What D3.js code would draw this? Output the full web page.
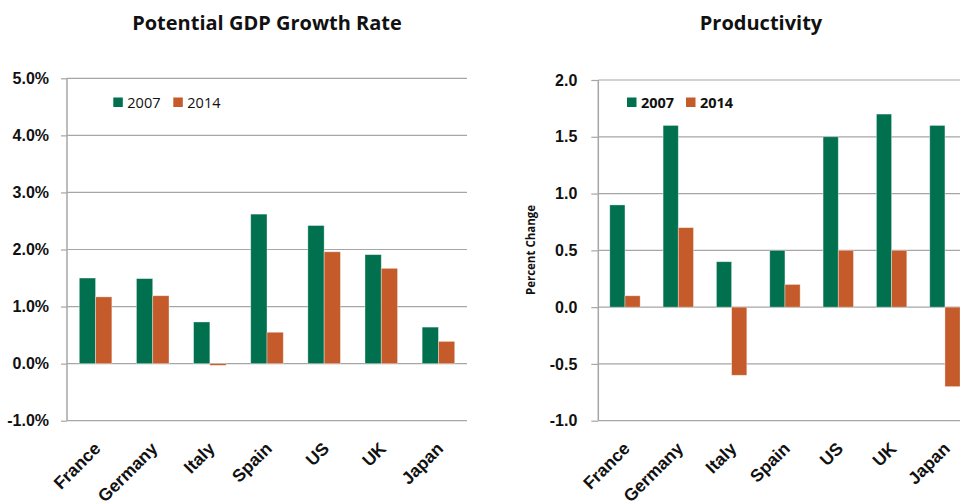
<!DOCTYPE html>
<html>
<head>
<meta charset="utf-8">
<script src="https://cdn.jsdelivr.net/npm/d3@7"></script>
<style>
  body { margin: 0; background: #fff; }
  svg { display: block; font-family: "Open Sans", "Liberation Sans", sans-serif; }
</style>
</head>
<body>
<div id="chart"></div>
<script>
// data
var countries = ["France", "Germany", "Italy", "Spain", "US", "UK", "Japan"];
var years = ["2007", "2014"];
var gdp2007 = [1.50, 1.49, 0.73, 2.62, 2.42, 1.91, 0.64];
var gdp2014 = [1.17, 1.19, -0.03, 0.55, 1.96, 1.67, 0.39];
var prod2007 = [0.9, 1.6, 0.4, 0.5, 1.5, 1.7, 1.6];
var prod2014 = [0.1, 0.7, -0.6, 0.2, 0.5, 0.5, -0.7];
var gdpTicks = [-1, 0, 1, 2, 3, 4, 5];
var prodTicks = [-1, -0.5, 0, 0.5, 1, 1.5, 2];

var colors = {"2007": "#00704e", "2014": "#c55a2b"};
var gridColor = "#a6a6a6";

// plain hyphen for negatives, like the original
var fmt1 = function(d) { return d3.format(".1f")(d).replace("\u2212", "-"); };

var svg = d3.select("#chart")
    .append("svg")
        .attr("width", 960)
        .attr("height", 501);

function drawPanel(p) {
    var x = d3.scaleBand()
        .domain(countries)
        .range([p.left, p.right]);

    var groupW = x.bandwidth() * 0.57;
    var xs = d3.scaleBand()
        .domain(years)
        .range([-groupW / 2, groupW / 2]);

    var y = d3.scaleLinear()
        .domain(p.domain)
        .range([p.bottom, p.top]);

    var g = svg.append("g");

    // gridlines
    g.append("g")
        .selectAll("line")
        .data(p.ticks)
        .enter()
        .append("line")
        .attr("x1", p.left)
        .attr("x2", p.right)
        .attr("y1", function(d) { return y(d); })
        .attr("y2", function(d) { return y(d); })
        .attr("stroke", gridColor)
        .attr("stroke-width", 1.2);

    // y axis labels + ticks
    var yAxis = g.append("g")
        .attr("transform", "translate(" + p.left + ",0)")
        .call(d3.axisLeft(y)
            .tickValues(p.ticks)
            .tickSize(p.tickSize)
            .tickPadding(p.tickPad)
            .tickFormat(p.format));
    yAxis.select(".domain").remove();
    yAxis.selectAll("line").attr("stroke", gridColor).attr("stroke-width", 1.2);
    yAxis.selectAll("text")
        .attr("fill", "#111")
        .style("font-size", "16px")
        .style("font-weight", "bold");

    // bars
    var rows = countries.map(function(c, i) {
        return [{c: c, s: "2007", v: p.s1[i]}, {c: c, s: "2014", v: p.s2[i]}];
    });
    g.append("g")
        .selectAll("g")
        .data(rows)
        .enter()
        .append("g")
        .attr("transform", function(d) {
            return "translate(" + (x(d[0].c) + x.bandwidth() / 2) + ",0)";
        })
        .selectAll("rect")
        .data(function(d) { return d; })
        .enter()
        .append("rect")
        .attr("x", function(d) { return xs(d.s); })
        .attr("width", xs.bandwidth())
        .attr("y", function(d) { return y(Math.max(0, d.v)); })
        .attr("height", function(d) { return Math.abs(y(d.v) - y(0)); })
        .attr("fill", function(d) { return colors[d.s]; })
        .attr("stroke", "rgba(255,255,255,0.45)")
        .attr("stroke-width", 0.8);

    // vertical axis line
    g.append("line")
        .attr("x1", p.left).attr("x2", p.left)
        .attr("y1", p.top).attr("y2", p.bottom)
        .attr("stroke", gridColor)
        .attr("stroke-width", 1.5);

    // category labels
    var xAxis = g.append("g")
        .attr("transform", "translate(0," + p.bottom + ")")
        .call(d3.axisBottom(x).tickSize(0));
    xAxis.select(".domain").remove();
    xAxis.selectAll("text")
        .attr("y", 0)
        .attr("dy", 0)
        .attr("transform", "translate(6,29) rotate(-45)")
        .style("text-anchor", "end")
        .attr("fill", "#111")
        .style("font-size", "17.5px")
        .style("font-weight", "bold");

    // title
    svg.append("text")
        .attr("x", p.titleX)
        .attr("y", 30)
        .attr("text-anchor", "middle")
        .style("font-size", "20px")
        .style("font-weight", "bold")
        .attr("fill", "#111")
        .text(p.title);

    // legend
    var leg = svg.append("g");
    years.forEach(function(yr, i) {
        leg.append("rect")
            .attr("x", p.legendX[i])
            .attr("y", 97.5)
            .attr("width", 9.5)
            .attr("height", 9.5)
            .attr("fill", colors[yr]);
        leg.append("text")
            .attr("x", p.legendX[i] + 14)
            .attr("y", 107.5)
            .style("font-size", "14.5px")
            .style("font-weight", p.legendBold ? "bold" : "normal")
            .attr("fill", "#111")
            .text(yr);
    });
}

drawPanel({
    title: "Potential GDP Growth Rate",
    titleX: 267,
    left: 67, right: 467, top: 78.3, bottom: 420.7,
    domain: [-1, 5],
    ticks: gdpTicks,
    tickSize: 6, tickPad: 12,
    format: function(d) { return fmt1(d) + "%"; },
    s1: gdp2007, s2: gdp2014,
    legendX: [113.3, 173.3],
    legendBold: false
});

drawPanel({
    title: "Productivity",
    titleX: 761,
    left: 598.3, right: 971.6, top: 80, bottom: 420.7,
    domain: [-1, 2],
    ticks: prodTicks,
    tickSize: 7, tickPad: 14,
    format: fmt1,
    s1: prod2007, s2: prod2014,
    legendX: [627, 686],
    legendBold: true
});

svg.append("text")
    .attr("transform", "translate(535,250) rotate(-90)")
    .attr("text-anchor", "middle")
    .style("font-size", "11.5px")
    .style("font-weight", "bold")
    .attr("fill", "#111")
    .text("Percent Change");
</script>
</body>
</html>
